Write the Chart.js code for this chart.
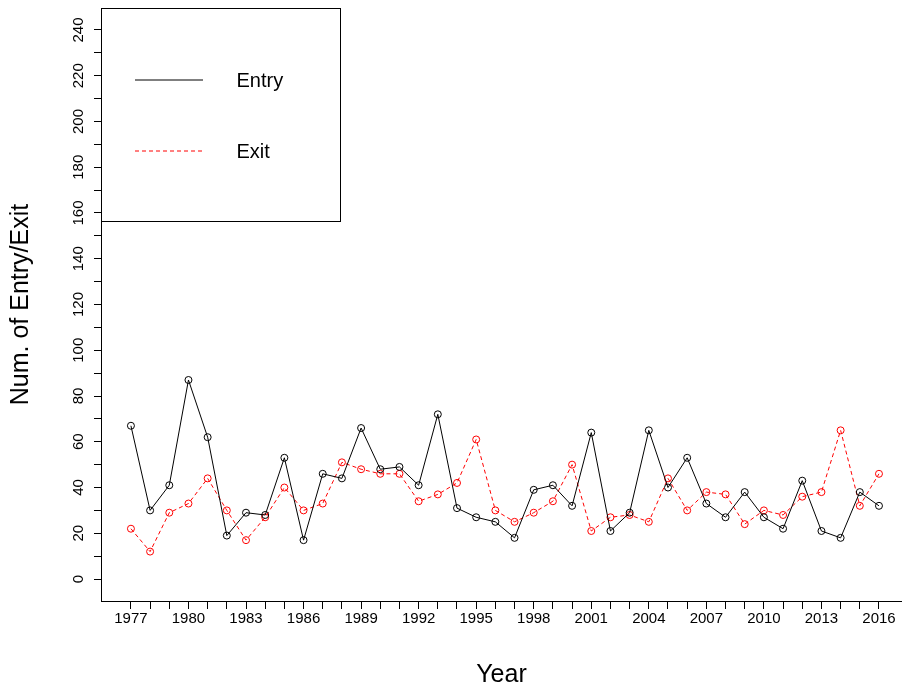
<!DOCTYPE html>
<html>
<head>
<meta charset="utf-8">
<script src="https://cdn.jsdelivr.net/npm/chart.js@4"></script>
<style>
  html, body { margin: 0; padding: 0; background: #ffffff; overflow: hidden; }
  canvas { display: block; }
</style>
</head>
<body>
<canvas id="entryExitChart" width="902" height="688"></canvas>
<script>
// years on the x axis
const years = [];
for (let yr = 1977; yr <= 2016; yr++) years.push(yr);

// number of entries per year (black, solid)
const entryCounts = [67, 30, 41, 87, 62, 19, 29, 28, 53, 17,
                     46, 44, 66, 48, 49, 41, 72, 31, 27, 25,
                     18, 39, 41, 32, 64, 21, 29, 65, 40, 53,
                     33, 27, 38, 27, 22, 43, 21, 18, 38, 32];

// number of exits per year (red, dashed)
const exitCounts = [22, 12, 29, 33, 44, 30, 17, 27, 40, 30,
                    33, 51, 48, 46, 46, 34, 37, 42, 61, 30,
                    25, 29, 34, 50, 21, 27, 28, 25, 44, 30,
                    38, 37, 24, 30, 28, 36, 38, 65, 32, 46];

// tick marks and labels
const yTicks = [0, 10, 20, 30, 40, 50, 60, 70, 80, 90, 100, 110, 120,
                130, 140, 150, 160, 170, 180, 190, 200, 210, 220, 230, 240];
const yLabels = [0, 20, 40, 60, 80, 100, 120, 140, 160, 180, 200, 220, 240];
const xLabels = [1977, 1980, 1983, 1986, 1989, 1992, 1995, 1998, 2001, 2004, 2007, 2010, 2013, 2016];

const fontFamily = '"Liberation Sans", Arial, sans-serif';

// y tick labels are drawn rotated like R does (parallel to the axis)
const rotatedYLabels = {
  id: "rotatedYLabels",
  afterDraw(chart) {
    const ctx = chart.ctx;
    const scale = chart.scales.y;
    ctx.save();
    ctx.font = "15px " + fontFamily;
    ctx.fillStyle = "#000000";
    ctx.textAlign = "center";
    ctx.textBaseline = "alphabetic";
    const lx = scale.right - 18.3;
    yLabels.forEach(v => {
      const py = scale.getPixelForValue(v);
      ctx.save();
      ctx.translate(lx, py);
      ctx.rotate(-Math.PI / 2);
      ctx.fillText(String(v), 0, 0);
      ctx.restore();
    });
    ctx.restore();
  }
};

// boxed legend in the upper left corner
const boxLegend = {
  id: "boxLegend",
  afterDraw(chart) {
    const ctx = chart.ctx;
    const area = chart.chartArea;
    const left = area.left, top = area.top;
    ctx.save();
    ctx.strokeStyle = "#000000";
    ctx.lineWidth = 1;
    ctx.strokeRect(Math.round(left) + 0.5, Math.round(top) + 0.5, 239, 213);

    const rows = [72, 143];
    chart.data.datasets.forEach((ds, i) => {
      const y = Math.round(top) + rows[i];
      ctx.save();
      ctx.beginPath();
      ctx.setLineDash(ds.borderDash || []);
      ctx.strokeStyle = ds.borderColor;
      ctx.lineWidth = 1;
      ctx.moveTo(left + 34, y);
      ctx.lineTo(left + 102, y);
      ctx.stroke();
      ctx.restore();
      ctx.font = "20px " + fontFamily;
      ctx.fillStyle = "#000000";
      ctx.textAlign = "left";
      ctx.textBaseline = "alphabetic";
      ctx.fillText(ds.label, left + 135.5, y + 7.3);
    });
    ctx.restore();
  }
};

const ctx = document.getElementById("entryExitChart").getContext("2d");
new Chart(ctx, {
  type: "line",
  data: {
    datasets: [{
      label: "Entry",
      data: years.map((yr, i) => ({ x: yr, y: entryCounts[i] })),
      borderColor: "#000000",
      borderWidth: 1,
      pointRadius: 3.5,
      pointBorderWidth: 1,
      pointBorderColor: "#000000",
      pointBackgroundColor: "rgba(0,0,0,0)",
      fill: false,
      tension: 0
    }, {
      label: "Exit",
      data: years.map((yr, i) => ({ x: yr, y: exitCounts[i] })),
      borderColor: "#ff0000",
      borderWidth: 1,
      borderDash: [4, 3],
      pointRadius: 3.5,
      pointBorderWidth: 1,
      pointBorderColor: "#ff0000",
      pointBackgroundColor: "rgba(0,0,0,0)",
      fill: false,
      tension: 0
    }]
  },
  options: {
    responsive: false,
    animation: false,
    devicePixelRatio: 1,
    layout: { autoPadding: false, padding: { top: 8, right: 0, left: 0, bottom: 0 } },
    scales: {
      x: {
        type: "linear",
        min: 1975.44,
        max: 2017.2,
        afterBuildTicks(scale) {
          scale.ticks = years.map(v => ({ value: v }));
        },
        afterFit(scale) {
          scale.height = 87;
          scale.paddingLeft = 0;
          scale.paddingRight = 0;
        },
        ticks: {
          color: "#000000",
          font: { family: fontFamily, size: 15 },
          padding: 1,
          maxRotation: 0,
          minRotation: 0,
          autoSkip: false,
          callback: v => (xLabels.includes(v) ? String(v) : "")
        },
        grid: {
          display: true,
          drawOnChartArea: false,
          drawTicks: true,
          tickLength: 8,
          color: "#000000",
          lineWidth: 1
        },
        border: { display: true, color: "#000000", width: 1 },
        title: {
          display: true,
          text: "Year",
          color: "#000000",
          font: { family: fontFamily, size: 25, lineHeight: 1 },
          padding: { top: 0, bottom: 0 }
        }
      },
      y: {
        type: "linear",
        min: -9.6,
        max: 249.6,
        afterBuildTicks(scale) {
          scale.ticks = yTicks.map(v => ({ value: v }));
        },
        afterFit(scale) {
          scale.width = 101;
          scale.paddingTop = 0;
          scale.paddingBottom = 0;
        },
        ticks: { display: false },
        grid: {
          display: true,
          drawOnChartArea: false,
          drawTicks: true,
          tickLength: 7,
          color: "#000000",
          lineWidth: 1
        },
        border: { display: true, color: "#000000", width: 1 },
        title: {
          display: true,
          text: "Num. of Entry/Exit",
          color: "#000000",
          font: { family: fontFamily, size: 25, lineHeight: 1 },
          padding: { top: 9, bottom: 0 }
        }
      }
    },
    plugins: {
      legend: { display: false },
      tooltip: { enabled: false }
    }
  },
  plugins: [rotatedYLabels, boxLegend]
});
</script>
</body>
</html>
